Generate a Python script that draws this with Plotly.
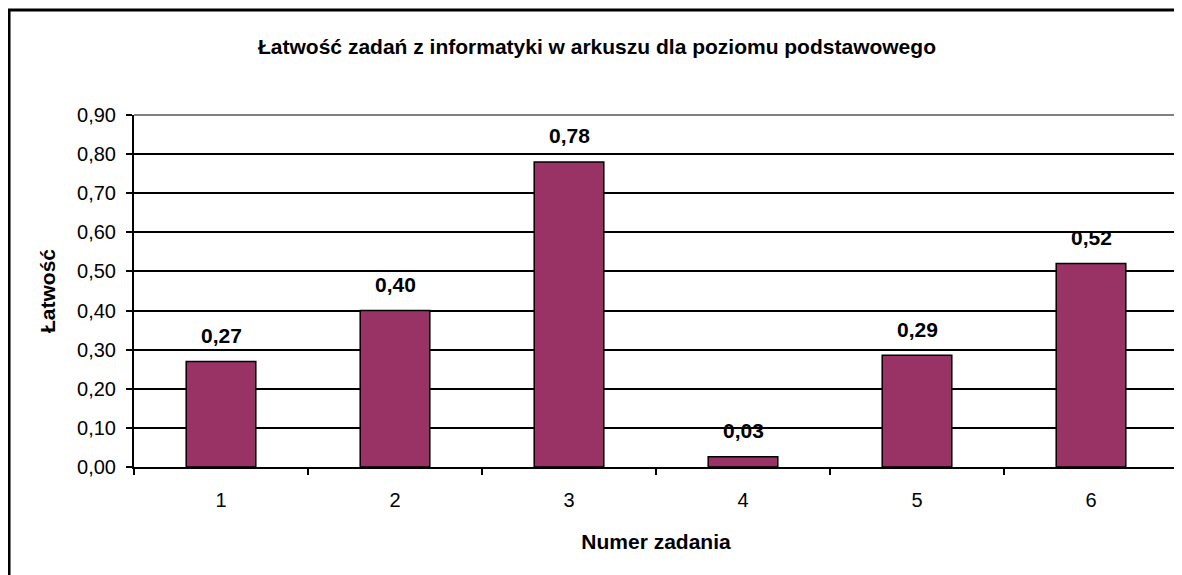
import plotly.graph_objects as go

categories = ["1", "2", "3", "4", "5", "6"]
values = [0.27, 0.40, 0.78, 0.026, 0.286, 0.52]
labels = [f"{v:.2f}".replace(".", ",") for v in values]
y_ticks = [0.0, 0.1, 0.2, 0.3, 0.4, 0.5, 0.6, 0.7, 0.8, 0.9]

FONT = "Liberation Sans, Arial, sans-serif"
BAR = "#993366"

fig = go.Figure()
fig.add_trace(go.Bar(
    x=categories, y=values,
    marker=dict(color=BAR, line=dict(color="black", width=1.5)),
    hoverinfo="skip",
))

for i, (v, t) in enumerate(zip(values, labels)):
    fig.add_annotation(x=i, y=v, text=f"<b>{t}</b>", showarrow=False,
                       yshift=26, font=dict(family=FONT, size=21, color="black"))

# plot-area top/right grey borders
fig.add_shape(type="line", xref="paper", yref="paper", x0=0, x1=1, y0=1, y1=1,
              line=dict(color="#808080", width=2))
fig.add_shape(type="line", xref="paper", yref="paper", x0=1, x1=1, y0=0, y1=1,
              line=dict(color="#808080", width=2))
# outer chart border
fig.add_shape(type="rect", xref="paper", yref="paper", x0=-0.1197, x1=1.02,
              y0=-0.35, y1=1.2983, line=dict(color="black", width=3),
              fillcolor="rgba(0,0,0,0)", layer="above")

# page body has an 8px margin, so the figure is 8px smaller and offset
fig.update_layout(
    width=1174, height=567,
    margin=dict(l=126, r=4, t=107, b=108),
    paper_bgcolor="white", plot_bgcolor="white",
    separators=", ",
    bargap=0.6,
    showlegend=False,
    font=dict(family=FONT, size=20, color="black"),
    title=dict(text="<b>Łatwość zadań z informatyki w arkuszu dla poziomu podstawowego</b>",
               x=589 / 1174, xref="container", xanchor="center",
               y=1 - 39 / 567, yref="container", yanchor="middle",
               font=dict(family=FONT, size=21, color="black")),
    xaxis=dict(
        type="category", range=[-0.5, 5.5], showline=True, linecolor="black", linewidth=2,
        ticks="outside", tickson="boundaries", ticklen=6, tickcolor="black", tickwidth=1.5,
        showgrid=False, ticklabelstandoff=14,
        tickfont=dict(family=FONT, size=20),
        title=dict(text="<b>Numer zadania</b>", standoff=24,
                   font=dict(family=FONT, size=21)),
    ),
    yaxis=dict(
        range=[0, 0.9], tickvals=y_ticks, tickformat=".2f",
        showline=True, linecolor="black", linewidth=2,
        ticks="outside", ticklen=6, tickcolor="black", tickwidth=1.5,
        showgrid=True, gridcolor="black", gridwidth=1.5,
        zeroline=False, ticklabelstandoff=6,
        tickfont=dict(family=FONT, size=20),
        title=dict(text="<b>Łatwość</b>", standoff=16,
                   font=dict(family=FONT, size=21)),
    ),
)

fig.write_html("out.html")
